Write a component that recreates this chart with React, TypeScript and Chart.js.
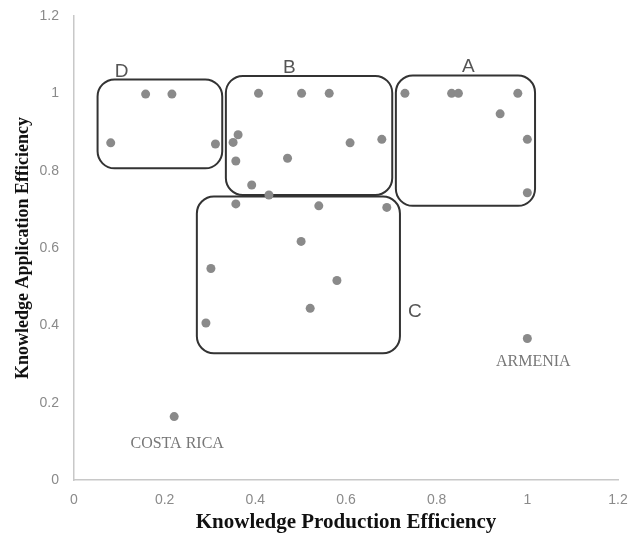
import React, { useEffect, useRef } from "react";
import { Chart, registerables } from "chart.js";

Chart.register(...registerables);

// Knowledge Production Efficiency (x) and Knowledge Application Efficiency (y)
const productionEff = [
  0.081, 0.158, 0.216, 0.312,
  0.407, 0.502, 0.563, 0.362, 0.351, 0.609, 0.679, 0.357, 0.471, 0.392, 0.43,
  0.357, 0.54, 0.69, 0.501, 0.302, 0.58, 0.521, 0.291,
  0.73, 0.833, 0.848, 0.979, 0.94, 1.0, 1.0,
  1.0, 0.221,
];
const applicationEff = [
  0.872, 0.998, 0.998, 0.869,
  1.0, 1.0, 1.0, 0.893, 0.873, 0.872, 0.881, 0.825, 0.832, 0.763, 0.737,
  0.714, 0.709, 0.705, 0.617, 0.547, 0.516, 0.444, 0.406,
  1.0, 1.0, 1.0, 1.0, 0.947, 0.881, 0.743,
  0.366, 0.164,
];

// Named countries (index into the arrays above)
const namedCountries = ["ARMENIA", "COSTA RICA"];
const namedIndex = [30, 31];

// Cluster regions in data units
const clusterNames = ["A", "B", "C", "D"];
const clusterX0 = [0.71, 0.335, 0.271, 0.052];
const clusterX1 = [1.017, 0.702, 0.719, 0.327];
const clusterY0 = [0.709, 0.737, 0.328, 0.806];
const clusterY1 = [1.046, 1.045, 0.733, 1.036];
const clusterLabelX = [0.87, 0.475, 0.752, 0.105];
const clusterLabelY = [1.069, 1.065, 0.435, 1.056];

const xTicks = [0, 0.2, 0.4, 0.6, 0.8, 1, 1.2];
const yTicks = [0, 0.2, 0.4, 0.6, 0.8, 1, 1.2];

const fmt = (v: number) => String(Number(v.toFixed(1)));

const overlayPlugin = {
  id: "overlay",
  beforeDatasetsDraw(chart: any) {
    const { ctx, scales } = chart;
    const xs = scales.x;
    const ys = scales.y;
    ctx.save();
    ctx.strokeStyle = "#333333";
    ctx.lineWidth = 2;
    for (let i = 0; i < clusterNames.length; i++) {
      const l = xs.getPixelForValue(clusterX0[i]);
      const r = xs.getPixelForValue(clusterX1[i]);
      const t = ys.getPixelForValue(clusterY1[i]);
      const b = ys.getPixelForValue(clusterY0[i]);
      ctx.beginPath();
      ctx.roundRect(l, t, r - l, b - t, 17);
      ctx.stroke();
    }
    ctx.fillStyle = "#555555";
    ctx.font = "19px 'Liberation Sans', sans-serif";
    ctx.textAlign = "center";
    ctx.textBaseline = "middle";
    for (let i = 0; i < clusterNames.length; i++) {
      ctx.fillText(
        clusterNames[i],
        xs.getPixelForValue(clusterLabelX[i]),
        ys.getPixelForValue(clusterLabelY[i])
      );
    }
    ctx.restore();
  },
  afterDatasetsDraw(chart: any) {
    const { ctx, scales } = chart;
    const xs = scales.x;
    const ys = scales.y;
    ctx.save();
    ctx.fillStyle = "#777777";
    ctx.font = "16px 'Liberation Serif', serif";
    ctx.textAlign = "center";
    ctx.textBaseline = "middle";
    const dx = [6, 3];
    const dy = [23, 27];
    for (let i = 0; i < namedCountries.length; i++) {
      const k = namedIndex[i];
      const px = xs.getPixelForValue(productionEff[k]);
      const py = ys.getPixelForValue(applicationEff[k]);
      ctx.fillText(namedCountries[i], px + dx[i], py + dy[i]);
    }
    ctx.restore();
  },
};

export default function App() {
  const canvasRef = useRef<HTMLCanvasElement | null>(null);

  useEffect(() => {
    const canvas = canvasRef.current;
    if (!canvas) return;
    const points = productionEff.map((x, i) => ({ x, y: applicationEff[i] }));
    const chart = new Chart(canvas, {
      type: "scatter",
      data: {
        datasets: [
          {
            data: points,
            backgroundColor: "#8a8a8a",
            borderColor: "#8a8a8a",
            pointRadius: 4.5,
            pointBorderWidth: 0,
          },
        ],
      },
      options: {
        responsive: false,
        devicePixelRatio: 1,
        animation: false,
        layout: { padding: { left: 0, right: 11, top: 16, bottom: 0 } },
        plugins: {
          legend: { display: false },
          tooltip: { enabled: false },
        },
        scales: {
          x: {
            type: "linear",
            min: 0,
            max: 1.2,
            afterFit(scale: any) {
              scale.height = 60;
              scale.paddingLeft = 0;
              scale.paddingRight = 0;
            },
            afterBuildTicks(scale: any) {
              scale.ticks = xTicks.map((v) => ({ value: v }));
            },
            grid: { display: false, drawTicks: false },
            border: { display: true, color: "#c8c8c8", width: 1.5 },
            ticks: {
              autoSkip: false,
              maxRotation: 0,
              padding: 12,
              color: "#8a8a8a",
              font: { family: "'Liberation Sans', sans-serif", size: 14 },
              callback: (v: any) => fmt(Number(v)),
            },
            title: {
              display: true,
              text: "Knowledge Production Efficiency",
              color: "#111111",
              font: { family: "'Liberation Serif', serif", size: 21, weight: "bold" },
              padding: { top: 0, bottom: 5 },
            },
          },
          y: {
            type: "linear",
            min: 0,
            max: 1.2,
            afterFit(scale: any) {
              scale.width = 74;
              scale.paddingTop = 0;
              scale.paddingBottom = 0;
            },
            afterBuildTicks(scale: any) {
              scale.ticks = yTicks.map((v) => ({ value: v }));
            },
            grid: { display: false, drawTicks: false },
            border: { display: true, color: "#c8c8c8", width: 1.5 },
            ticks: {
              autoSkip: false,
              padding: 15,
              color: "#8a8a8a",
              font: { family: "'Liberation Sans', sans-serif", size: 14 },
              callback: (v: any) => fmt(Number(v)),
            },
            title: {
              display: true,
              text: "Knowledge Application Efficiency",
              color: "#111111",
              font: { family: "'Liberation Serif', serif", size: 18, weight: "bold" },
              padding: { top: 13, bottom: 0 },
            },
          },
        },
      },
      plugins: [overlayPlugin],
    });
    return () => chart.destroy();
  }, []);

  return (
    <div
      style={{
        position: "absolute",
        left: 0,
        top: 0,
        width: 629,
        height: 540,
        background: "#ffffff",
      }}
    >
      <canvas ref={canvasRef} width={629} height={540} />
    </div>
  );
}
